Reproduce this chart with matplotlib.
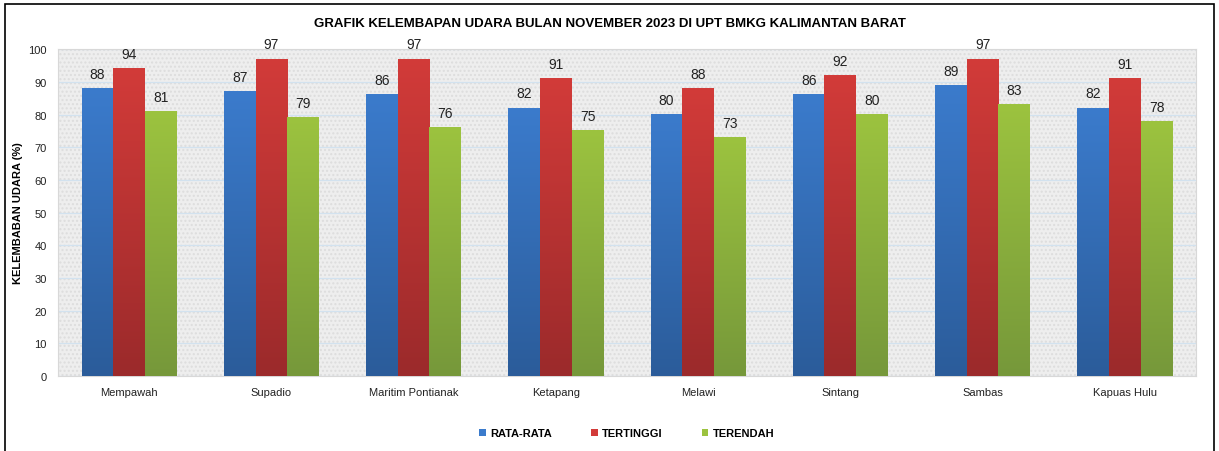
import numpy as np
import matplotlib
matplotlib.use('Agg')
import matplotlib.pyplot as plt
from matplotlib.colors import LinearSegmentedColormap
from matplotlib.patches import Rectangle

plt.rcParams['font.family'] = ['Liberation Sans', 'DejaVu Sans']

# data
stations = ['Mempawah', 'Supadio', 'Maritim Pontianak', 'Ketapang',
            'Melawi', 'Sintang', 'Sambas', 'Kapuas Hulu']
rata_rata = [88, 87, 86, 82, 80, 86, 89, 82]
tertinggi = [94, 97, 97, 91, 88, 92, 97, 91]
terendah = [81, 79, 76, 75, 73, 80, 83, 78]
series_names = ['RATA-RATA', 'TERTINGGI', 'TERENDAH']

# (top colour, bottom colour) for the gradient fill
colors = [('#3b7bcc', '#2b5c9a'),
          ('#d23b39', '#9b2a2b'),
          ('#9cc33f', '#76983a')]

fig = plt.figure(figsize=(12.19, 4.52), dpi=100)
ax = fig.add_axes([0.0476, 0.166, 0.9335, 0.723])

x = np.arange(len(stations))
w = 0.223

for i, (vals, (ctop, cbot)) in enumerate(zip([rata_rata, tertinggi, terendah], colors)):
    bars = ax.bar(x + (i - 1) * w, vals, w, color=ctop, zorder=3, label=series_names[i])
    cmap = LinearSegmentedColormap.from_list('g%d' % i, [cbot, ctop])
    for b, v in zip(bars, vals):
        bx, by = b.get_x(), b.get_y()
        bw, bh = b.get_width(), b.get_height()
        grad = np.linspace(0, 1, 256).reshape(-1, 1)
        ax.imshow(grad, cmap=cmap, origin='lower', aspect='auto',
                  extent=(bx, bx + bw, by, by + bh), zorder=3.5)
        ax.text(bx + bw / 2, v + 2.3, str(v), ha='center', va='bottom',
                fontsize=10, color='#222222', zorder=5)
ax.set_xlim(-0.5, len(stations) - 0.5)
ax.set_ylim(0, 100)

ax.set_facecolor('#eeeeee')
ax.add_patch(Rectangle((0, 0), 1, 1, transform=ax.transAxes, facecolor='none',
                       edgecolor='#dddddd', hatch='....', lw=0, zorder=0.5))
ax.set_yticks(range(0, 101, 10))
ax.yaxis.grid(True, color='#d2e2ef', lw=0.9, zorder=1)
ax.set_axisbelow(True)
for s in ax.spines.values():
    s.set_color('#d8d8d8')
    s.set_linewidth(0.8)
ax.tick_params(length=0, labelsize=8, colors='#222222', pad=8)
ax.set_xticks(x)
ax.set_xticklabels(stations)
ax.set_ylabel('KELEMBABAN UDARA (%)', fontsize=8, fontweight='bold', labelpad=4)

fig.suptitle('GRAFIK KELEMBAPAN UDARA BULAN NOVEMBER 2023 DI UPT BMKG KALIMANTAN BARAT',
             fontsize=9.5, fontweight='bold', y=0.96)

leg = ax.legend(loc='upper center', bbox_to_anchor=(0.5, -0.13), ncol=3, frameon=False,
                handlelength=0.6, handleheight=0.6, columnspacing=3.5, handletextpad=0.4,
                prop={'size': 8, 'weight': 'bold'})

# outer frame
fig.add_artist(Rectangle((0.004, -0.01), 0.992, 0.999, transform=fig.transFigure,
                         fill=False, edgecolor='black', lw=1.2))

fig.savefig('out.png', dpi=100)
